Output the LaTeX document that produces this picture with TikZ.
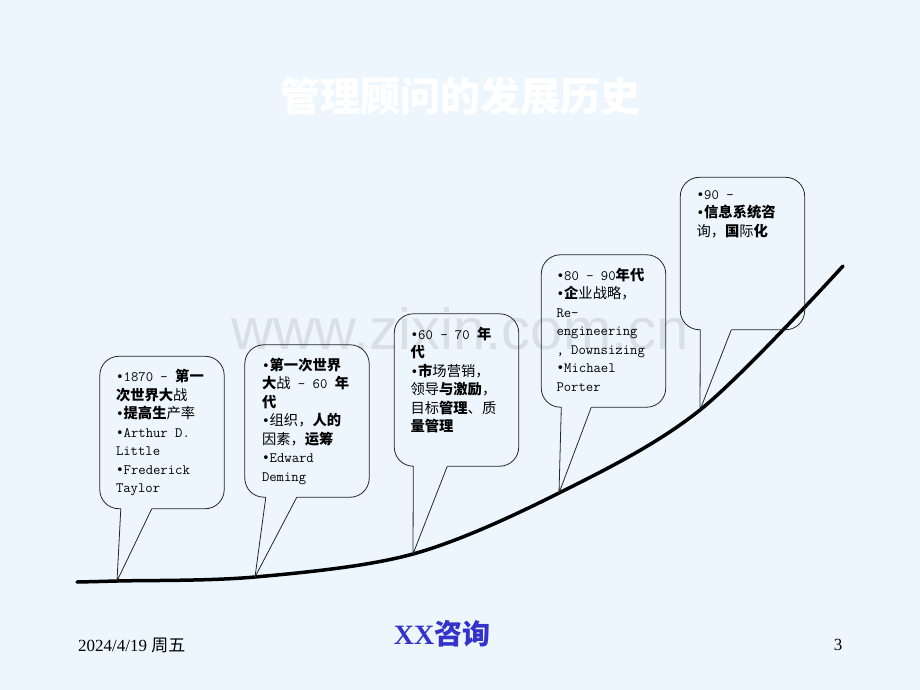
\documentclass[tikz,border=0pt]{standalone}
\usepackage{fontspec}
\setmainfont{Liberation Serif}
\setsansfont{Liberation Sans}
\newfontfamily\cjk{Noto Sans CJK SC}
\newfontfamily\dotfont{DejaVu Sans}
\usetikzlibrary{positioning,calc}
\definecolor{slidebg}{RGB}{238,246,253}
\definecolor{markgrey}{RGB}{218,222,231}
\definecolor{brandblue}{RGB}{51,51,204}
\newcommand{\zh}[1]{{\cjk #1}}
\newcommand{\zhb}[1]{{\cjk\bfseries #1}}
\newcommand{\bul}{{\dotfont\fontsize{13}{13}\selectfont •}}
\tikzset{
  callbox/.style={minimum width=124pt, minimum height=152pt, inner sep=0pt},
  outline/.style={draw=black!85, line width=0.8pt},
  era/.style={anchor=north west, inner sep=0pt, align=left,
    font=\fontsize{14.3}{18.5}\selectfont\ttfamily},
  curve/.style={line width=3.5pt, line cap=round},
  title/.style={text=white, font=\fontsize{40}{44}\selectfont\cjk\bfseries},
  watermark/.style={text=markgrey, font=\fontsize{58}{60}\selectfont\sffamily},
  footer/.style={inner sep=0pt, font=\fontsize{17}{20}\selectfont},
  brand/.style={text=brandblue, font=\fontsize{28}{30}\selectfont\bfseries},
}

\begin{document}
\begin{tikzpicture}[x=1pt,y=-1pt]
  % slide background
  \fill[slidebg] (0,0) rectangle (920,690);
  \useasboundingbox (0,0) rectangle (920,690);
  \node[watermark] (wm) at (460,329) {www.zixin.com.cn};
  \node[title] (title) at (460,96) {管理顾问的发展历史};

  % growth curve
  \coordinate (start) at (77,582);
  \coordinate (tip1) at (117,581);
  \coordinate (tip2) at (255,577);
  \coordinate (tip3) at (413,554);
  \coordinate (tip4) at (559,493);
  \coordinate (tip5) at (700,410);
  \coordinate (end) at (843,266);
  \draw[curve] plot[smooth, tension=0.55] coordinates {(start) (tip1) (tip2) (tip3) (tip4) (tip5) (end)};

  % callout frames
  \node[callbox] (box1) at (162,432.5) {};
  \node[callbox] (box2) at (307,421) {};
  \node[callbox] (box3) at (456.5,390) {};
  \node[callbox] (box4) at (603.5,331) {};
  \node[callbox] (box5) at (742.5,253.5) {};
  \foreach \b/\t/\l/\r in {box1/tip1/21/52, box2/tip2/21/52, box3/tip3/19/53, box4/tip4/20/50, box5/tip5/20/51}{
    \draw[outline, rounded corners=19pt] ($(\b.south west)+(\r,0)$) -- (\b.south east) -- (\b.north east)
      -- (\b.north west) -- (\b.south west) -- ($(\b.south west)+(\l,0)$);
    \draw[outline] ($(\b.south west)+(\l,0)$) -- (\t) -- ($(\b.south west)+(\r,0)$);
  }

  % callout texts
  \node[era, below right=13pt and 16pt of box1.north west] (era1) {%
    \bul1870 – \zhb{第一}\\
    \zhb{次世界大}\zh{战}\\
    \bul\zhb{提高生}\zh{产率}\\
    \bul Arthur D.\\
    Little\\
    \bul Frederick\\
    Taylor};
  \node[era, below right=13pt and 17pt of box2.north west] (era2) {%
    \bul\zhb{第一次世界}\\
    \zhb{大}\zh{战} – 60 \zhb{年}\\
    \zhb{代}\\
    \bul\zh{组织，}\zhb{人的}\\
    \zh{因素，}\zhb{运筹}\\
    \bul Edward\\
    Deming};
  \node[era, below right=13pt and 16pt of box3.north west] (era3) {%
    \bul 60 – 70 \zhb{年}\\
    \zhb{代}\\
    \bul\zhb{市}\zh{场营销，}\\
    \zh{领导}\zhb{与激励}\zh{，}\\
    \zh{目标}\zhb{管理}\zh{、质}\\
    \zhb{量管理}};
  \node[era, below right=13pt and 15pt of box4.north west] (era4) {%
    \bul 80 – 90\zhb{年代}\\
    \bul\zhb{企}\zh{业战略，}\\
    Re-\\
    engineering\\
    , Downsizing\\
    \bul Michael\\
    Porter};
  \node[era, below right=13pt and 16pt of box5.north west] (era5) {%
    \bul 90 –\\
    \bul\zhb{信息系统咨}\\
    \zh{询，}\zhb{国}\zh{际}\zhb{化}};

  % footer
  \node[footer, anchor=west] (date) at (78,645) {2024/4/19 \zh{周五}};
  \node[brand] (firm) at (442,634) {XX\zhb{咨询}};
  \node[footer] (page) at (838,645) {3};
\end{tikzpicture}
\end{document}
